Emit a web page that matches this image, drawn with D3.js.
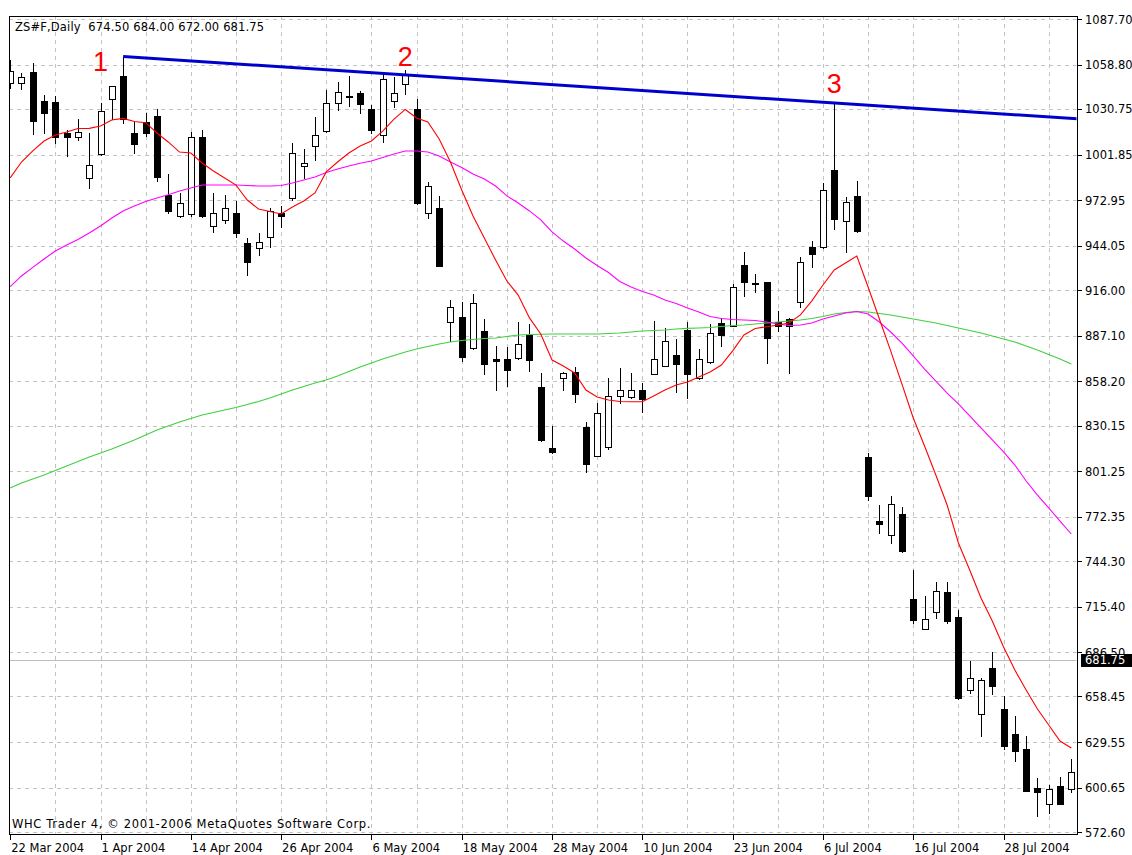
<!DOCTYPE html>
<html><head><meta charset="utf-8">
<script src="https://cdn.jsdelivr.net/npm/d3@7"></script>
<style>body{margin:0;background:#fff}svg{display:block}</style>
</head><body>
<svg id="chart" width="1132" height="855"></svg>
<script>
// ---------- DATA ----------
const symbolTitle = "ZS#F,Daily";
const lastQuote = ["674.50", "684.00", "672.00", "681.75"];
const copyright = "WHC Trader 4, \u00A9 2001-2006 MetaQuotes Software Corp.";
const currentPrice = 681.75;
const currentPriceLabel = "681.75";

const dateLabels = ["22 Mar 2004","1 Apr 2004","14 Apr 2004","26 Apr 2004","6 May 2004","18 May 2004",
  "28 May 2004","10 Jun 2004","23 Jun 2004","6 Jul 2004","16 Jul 2004","28 Jul 2004"];
const dateLabelBars = [0, 8, 16, 24, 32, 40, 48, 56, 64, 72, 80, 88];
const gridBars = [4,8,12,16,20,24,28,32,36,40,44,48,52,56,60,64,68,72,76,80,84,88,92];

const priceTickLabels = ["1087.70","1058.80","1030.75","1001.85","972.95","944.05","916.00","887.10",
  "858.20","830.15","801.25","772.35","744.30","715.40","686.50","658.45","629.55","600.65","572.60"];
const priceTicks = priceTickLabels.map(Number);

const open = [1047.2,1047.0,1054.3,1035.7,1035.3,1015.5,1013.1,987.0,1002.0,1036.7,
  1051.6,1015.3,1022.6,1026.2,976.2,962.9,964.1,1013.1,956.5,960.4,
  964.6,945.6,942.3,949.6,964.8,974.0,994.6,1007.4,1016.9,1034.7,
  1038.1,1040.6,1030.5,1014.2,1035.9,1046.5,1030.5,965.0,968.1,895.9,
  898.7,879.1,890.2,872.1,872.1,872.9,887.2,854.7,815.7,860.0,
  863.8,829.0,811.0,816.7,849.0,848.0,852.6,862.8,868.0,874.8,
  890.7,860.0,870.2,895.3,893.4,931.8,920.6,920.9,895.5,897.6,
  908.6,943.4,943.0,992.0,959.5,975.6,810.4,769.6,760.8,774.1,
  720.2,701.2,711.8,724.8,708.6,662.6,647.2,676.3,650.3,634.5,
  625.0,600.7,590.3,601.9,599.8];
const high = [1061.7,1053.7,1059.8,1039.5,1038.7,1017.4,1024.5,1015.3,1034.3,1045.5,
  1063.9,1022.4,1028.0,1030.7,989.3,977.3,1016.3,1017.4,977.3,976.5,
  972.4,948.8,951.9,968.0,969.2,1008.9,1005.1,1025.4,1042.7,1048.0,
  1051.8,1042.3,1033.2,1052.2,1050.8,1055.4,1036.8,984.6,975.6,909.9,
  908.6,913.3,897.8,880.3,879.6,895.9,894.5,863.2,829.8,863.8,
  867.0,832.5,844.6,860.0,866.4,863.2,857.3,896.4,892.1,884.8,
  895.9,878.6,894.5,898.1,919.8,940.3,926.1,921.3,902.7,898.1,
  937.1,947.0,983.6,1034.5,974.7,984.9,812.9,779.8,785.5,778.7,
  738.6,722.3,731.2,731.2,713.2,680.9,670.2,686.4,658.8,646.1,
  633.4,606.6,602.4,607.6,618.6];
const low = [1044.0,1043.2,1014.6,1015.5,1009.1,1000.7,1011.0,980.6,1001.5,1024.3,
  1021.8,1002.6,1013.4,984.9,964.6,962.1,963.2,962.3,952.9,958.3,
  949.6,925.5,937.9,943.0,955.6,973.0,986.8,998.4,1016.3,1030.0,
  1032.6,1028.3,1015.7,1010.0,1031.8,1040.2,970.8,961.8,931.0,883.5,
  870.8,878.5,862.8,852.6,855.4,872.5,864.7,820.6,812.5,852.6,
  845.2,800.9,810.7,815.3,844.2,847.8,838.5,862.6,867.8,851.6,
  847.8,859.8,870.0,880.7,893.2,912.2,914.5,869.9,890.0,863.6,
  905.4,930.4,942.5,954.8,940.3,952.9,782.9,761.8,755.5,749.8,
  704.8,701.0,708.0,705.2,657.1,660.5,633.4,659.8,625.0,617.6,
  598.5,582.9,584.8,590.1,597.7];
const close = [1054.8,1051.1,1023.1,1028.3,1013.1,1013.1,1016.3,994.9,1029.6,1045.0,
  1024.2,1008.3,1015.5,987.5,966.0,970.9,1013.1,962.9,965.0,968.0,
  951.9,933.9,946.7,966.0,962.6,1003.0,996.3,1014.2,1034.3,1041.3,
  1038.9,1033.7,1017.4,1049.7,1040.6,1052.2,971.3,981.9,931.2,905.0,
  873.5,907.6,869.1,871.2,865.5,882.1,871.6,821.0,813.5,863.5,
  849.9,805.6,837.9,849.0,852.6,852.6,846.9,872.1,883.9,869.1,
  862.8,872.1,888.6,887.5,917.7,920.9,919.6,885.4,893.2,893.2,
  933.5,938.6,979.4,961.2,971.8,953.6,785.7,767.5,780.4,750.6,
  706.9,707.5,725.5,706.3,657.3,670.0,668.9,665.1,627.1,624.1,
  598.8,598.1,599.6,590.3,610.4];

// moving averages (one value per bar)
const maRed = [987.0,997.1,1004.1,1010.4,1014.2,1016.1,1018.3,1018.4,1019.9,1023.7,
  1024.7,1022.8,1022.0,1015.5,1009.8,1003.4,1002.8,996.5,991.4,987.0,
  982.5,973.0,967.3,965.7,964.2,968.6,972.4,977.5,990.8,997.1,
  1002.8,1007.2,1010.4,1016.7,1024.3,1030.4,1025.0,1022.4,1011.7,997.1,
  979.4,962.9,948.9,935.0,921.7,912.8,898.3,888.1,871.6,867.8,
  863.4,852.6,848.2,846.3,845.4,845.2,845.2,848.8,852.6,855.8,
  857.7,860.9,864.0,868.5,877.4,887.5,891.6,892.7,893.8,895.1,
  900.2,909.0,919.2,928.7,933.1,937.5,917.9,897.6,877.4,856.4,
  834.9,817.2,798.8,779.8,755.7,738.6,720.9,706.3,689.8,675.2,
  662.6,650.5,640.4,630.2,625.8];
const maMagenta = [918.2,924.9,930.3,935.6,940.7,944.5,948.0,952.1,956.6,961.6,
  966.1,969.2,972.1,974.3,976.3,978.7,980.6,982.5,982.5,982.5,
  982.5,982.2,981.9,981.9,982.2,983.8,985.7,987.6,990.4,992.7,
  994.6,996.3,997.7,999.9,1002.2,1004.1,1004.1,1003.4,1000.9,997.1,
  993.6,989.5,986.3,981.9,975.6,971.1,966.1,960.4,952.8,947.0,
  942.0,936.3,931.5,927.1,921.4,917.9,915.1,912.8,909.7,907.4,
  904.6,902.1,899.2,897.9,897.3,897.0,896.7,895.7,894.5,893.5,
  893.8,895.1,897.6,899.5,901.4,902.4,900.8,895.7,889.4,882.4,
  874.2,865.9,858.3,850.7,843.8,836.2,828.6,821.0,813.4,805.1,
  795.0,786.1,777.9,769.6,761.4];
const maGreen = [790.5,793.7,796.2,798.8,801.6,804.5,807.3,810.2,812.7,815.3,
  818.1,821.0,824.1,827.3,829.8,832.4,834.6,836.8,838.4,840.0,
  841.6,843.5,845.4,847.6,850.1,852.6,854.9,857.1,859.0,861.5,
  864.4,867.2,869.8,872.3,874.5,876.7,878.6,880.2,881.8,883.1,
  884.0,884.6,885.3,885.6,886.5,887.5,887.8,888.0,888.1,888.1,
  888.1,888.1,888.1,888.4,888.8,889.4,890.0,890.3,890.7,891.3,
  891.7,891.9,892.2,892.9,893.5,893.8,894.5,895.1,895.7,896.4,
  897.0,897.9,899.2,900.8,901.7,902.4,902.1,901.1,900.2,898.9,
  897.6,896.4,895.1,893.5,891.9,890.3,888.8,886.9,885.0,883.1,
  880.5,878.0,875.1,872.3,869.1];

// trend line anchors [bar, price] (the line is a ray to the right)
const trendAnchorBars = [10, 73];
const trendAnchorPrices = [1063.9, 1034.5];

const waveLabels = ["1", "2", "3"];
const waveBars = [8, 35, 73];
const wavePrices = [1054.9, 1058.1, 1041.0];

// ---------- LAYOUT ----------
const W = 1132, H = 855;
const frame = {left: 9, top: 16, right: 1077, bottom: 834};
const axisFont = "'DejaVu Sans', Verdana, sans-serif";
const axisFontSize = 11.5;

const svg = d3.select("#chart");
svg.append("rect").attr("width", W).attr("height", H).attr("fill", "#fff");

const nBars = open.length;
const x = d3.scaleLinear().domain([0, nBars - 1]).range([10.2, 1071.3]);
const y = d3.scaleLinear().domain([572.60, 1087.70]).range([832, 19]);

svg.append("clipPath").attr("id", "plotClip")
  .append("rect").attr("x", frame.left + 0.5).attr("y", frame.top + 0.5)
  .attr("width", frame.right - frame.left - 1).attr("height", frame.bottom - frame.top - 1);

const plot = svg.append("g").attr("clip-path", "url(#plotClip)");
const px = v => Math.round(v) + 0.5;

// grid
const gridColor = "#c3c3c3";
plot.append("g").selectAll("line").data(priceTicks).join("line")
  .attr("x1", frame.left).attr("x2", frame.right)
  .attr("y1", d => px(y(d))).attr("y2", d => px(y(d)))
  .attr("stroke", gridColor).attr("stroke-dasharray", "4,4").attr("shape-rendering", "crispEdges");
plot.append("g").selectAll("line").data(gridBars).join("line")
  .attr("x1", d => px(x(d))).attr("x2", d => px(x(d)))
  .attr("y1", frame.top).attr("y2", frame.bottom)
  .attr("stroke", gridColor).attr("stroke-dasharray", "4,4").attr("shape-rendering", "crispEdges");

// current price line
plot.append("line").attr("x1", frame.left).attr("x2", frame.right)
  .attr("y1", px(y(currentPrice))).attr("y2", px(y(currentPrice)))
  .attr("stroke", "#bdbdbd").attr("shape-rendering", "crispEdges");

// candles
const bars = d3.range(nBars);
const cg = plot.append("g");
cg.selectAll("line.wick").data(bars).join("line").attr("class", "wick")
  .attr("x1", i => px(x(i))).attr("x2", i => px(x(i)))
  .attr("y1", i => Math.round(y(high[i]))).attr("y2", i => Math.round(y(low[i])) + 1)
  .attr("stroke", "#000").attr("shape-rendering", "crispEdges");
cg.selectAll("rect.body").data(bars).join("rect").attr("class", "body")
  .attr("x", i => Math.round(x(i)) - 3 + 0.5)
  .attr("width", 6)
  .attr("y", i => Math.round(y(Math.max(open[i], close[i]))) + 0.5)
  .attr("height", i => Math.max(1, Math.round(y(Math.min(open[i], close[i]))) - Math.round(y(Math.max(open[i], close[i])))))
  .attr("fill", i => close[i] >= open[i] ? "#fff" : "#000")
  .attr("stroke", "#000").attr("shape-rendering", "crispEdges");

// moving averages
const maLine = d3.line().x((d, i) => x(i)).y(d => y(d));
plot.append("path").datum(maGreen).attr("d", maLine).attr("fill", "none").attr("stroke", "#3fcf3f").attr("stroke-width", 1.1);
plot.append("path").datum(maMagenta).attr("d", maLine).attr("fill", "none").attr("stroke", "#ff00ff").attr("stroke-width", 1.1);
plot.append("path").datum(maRed).attr("d", maLine).attr("fill", "none").attr("stroke", "#ff0000").attr("stroke-width", 1.1);

// trend line (ray)
const slope = (trendAnchorPrices[1] - trendAnchorPrices[0]) / (trendAnchorBars[1] - trendAnchorBars[0]);
const endBar = x.invert(frame.right + 2);
const trendPts = [trendAnchorBars[0], endBar].map(b => [b, trendAnchorPrices[0] + slope * (b - trendAnchorBars[0])]);
plot.append("path").datum(trendPts)
  .attr("d", d3.line().x(d => x(d[0])).y(d => y(d[1])))
  .attr("fill", "none").attr("stroke", "#0000cc").attr("stroke-width", 3);

// wave labels
plot.append("g").selectAll("text").data(waveLabels).join("text")
  .attr("x", (d, i) => x(waveBars[i])).attr("y", (d, i) => y(wavePrices[i]))
  .attr("text-anchor", "middle").attr("fill", "#ff0000")
  .attr("font-family", "'Liberation Sans', Arial, sans-serif").attr("font-size", 27)
  .text(d => d);

// header + copyright
plot.append("text").attr("x", 15).attr("y", 31)
  .attr("font-family", axisFont).attr("font-size", axisFontSize).attr("fill", "#000")
  .attr("letter-spacing", 0.15)
  .attr("xml:space", "preserve")
  .text(symbolTitle + "  " + lastQuote.join(" "));
plot.append("text").attr("x", 12).attr("y", 828)
  .attr("font-family", axisFont).attr("font-size", axisFontSize).attr("fill", "#000")
  .attr("letter-spacing", 0.65)
  .text(copyright);

// frame
svg.append("rect").attr("x", frame.left + 0.5).attr("y", frame.top + 0.5)
  .attr("width", frame.right - frame.left).attr("height", frame.bottom - frame.top)
  .attr("fill", "none").attr("stroke", "#000").attr("shape-rendering", "crispEdges");

// right price axis
const ra = svg.append("g");
ra.selectAll("line").data(priceTicks).join("line")
  .attr("x1", frame.right).attr("x2", frame.right + 5)
  .attr("y1", d => px(y(d))).attr("y2", d => px(y(d)))
  .attr("stroke", "#000").attr("shape-rendering", "crispEdges");
ra.selectAll("text").data(priceTickLabels).join("text")
  .attr("x", 1085).attr("y", (d, i) => y(priceTicks[i]) + 4.5)
  .attr("font-family", axisFont).attr("font-size", axisFontSize).attr("fill", "#000")
  .text(d => d);

// current price box (covers part of the nearby axis label, as in the original)
const cpY = y(currentPrice);
svg.append("rect").attr("x", 1081).attr("y", Math.round(cpY) - 6).attr("width", 51).attr("height", 13).attr("fill", "#000");
svg.append("text").attr("x", 1085).attr("y", cpY + 4.5)
  .attr("font-family", axisFont).attr("font-size", axisFontSize).attr("fill", "#fff")
  .text(currentPriceLabel);

// bottom date axis
const ba = svg.append("g");
ba.selectAll("line").data(dateLabelBars).join("line")
  .attr("x1", d => px(x(d))).attr("x2", d => px(x(d)))
  .attr("y1", frame.bottom).attr("y2", frame.bottom + 6)
  .attr("stroke", "#000").attr("shape-rendering", "crispEdges");
ba.selectAll("text").data(dateLabels).join("text")
  .attr("x", (d, i) => x(dateLabelBars[i]) + 1).attr("y", 851.5)
  .attr("font-family", axisFont).attr("font-size", axisFontSize).attr("fill", "#000")
  .text(d => d);
</script>
</body></html>
